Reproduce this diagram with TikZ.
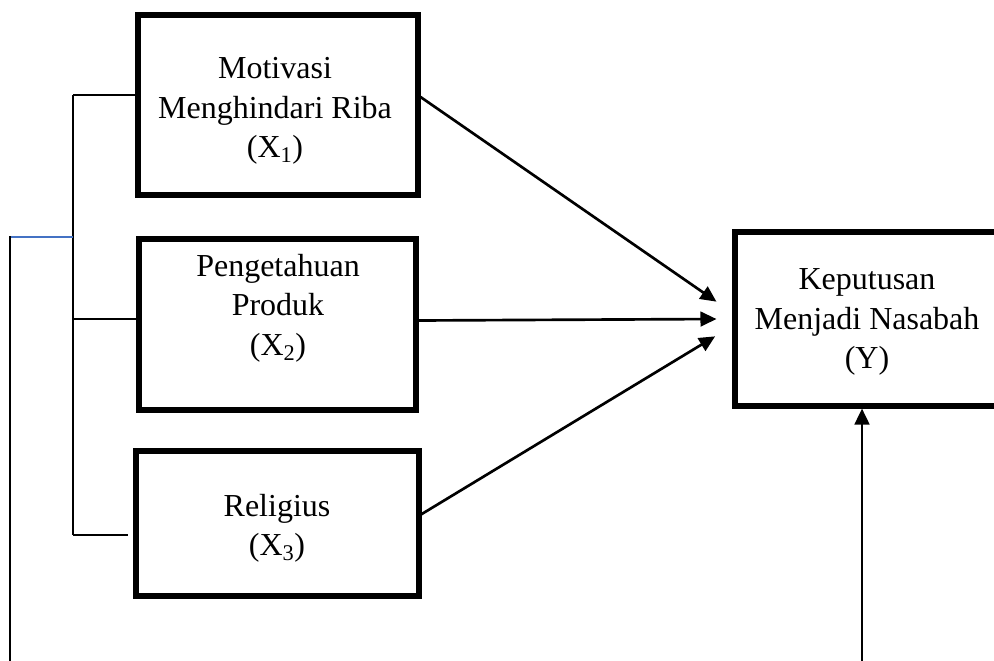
\documentclass[tikz,border=0pt]{standalone}
\usepackage{fontspec}
\setmainfont{Liberation Serif}
\usetikzlibrary{arrows.meta,calc}
\begin{document}
\begin{tikzpicture}[x=0.75pt,y=-0.75pt,
  varbox/.style={draw=black,line width=3.8pt,inner sep=0pt},
  txt/.style={align=center,inner sep=0pt,font=\fontsize{24}{29.5}\selectfont,text=black},
  thin/.style={line width=1.4pt,draw=black},
  arr/.style={line width=2pt,draw=black,-{Triangle[length=12pt,width=11pt]}}]
\useasboundingbox (0,0) rectangle (994,660);
\clip (0,0) rectangle (994,660);
\node[varbox,minimum width=280*0.75pt,minimum height=180*0.75pt] (b1) at (278,105) {};
\node[varbox,minimum width=277*0.75pt,minimum height=171*0.75pt] (b2) at (277.5,324.5) {};
\node[varbox,minimum width=283*0.75pt,minimum height=145*0.75pt] (b3) at (277.5,523.5) {};
\node[varbox,minimum width=263*0.75pt,minimum height=174*0.75pt] (by) at (866.5,319) {};
\node[txt] (l1) at (275,111) {Motivasi\\Menghindari Riba\\(X\textsubscript{1})};
\node[txt] (l2) at (278,308) {Pengetahuan\\Produk\\(X\textsubscript{2})};
\node[txt] (l3) at (277,528) {Religius\\(X\textsubscript{3})};
\node[txt] (ly) at (867,322) {Keputusan\\Menjadi Nasabah\\(Y)};
% bracket
\coordinate (t1) at (73,95);
\coordinate (t2) at (73,319);
\coordinate (t3) at (73,535);
\coordinate (tb) at (73,237);
\coordinate (lb) at (10,237);
\coordinate (lbot) at (10,662);
\coordinate (abot) at (862,662);
\draw[thin] (t1) -- (t3);
\draw[thin] (t1) -- (t1 -| b1.west);
\draw[thin] (t2) -- (t2 -| b2.west);
\draw[thin] (t3) -- ([xshift=-4pt]t3 -| b3.west);
\draw[line width=1.4pt,draw={rgb,255:red,68;green,114;blue,196}] (lb) -- (tb);
\draw[line width=1.8pt] ([yshift=0.7pt]lb) -- (lbot);
% arrows
\draw[arr] ([yshift=6pt]b1.east) -- ([xshift=-12pt,yshift=13pt]by.west);
\draw[arr] ([yshift=3pt]b2.east) -- ([xshift=-12pt,yshift=0pt]by.west);
\draw[arr] ([yshift=7pt]b3.east) -- ([xshift=-13pt,yshift=-13pt]by.west);
\draw[arr] (abot) -- (abot |- by.south);
\end{tikzpicture}
\end{document}
